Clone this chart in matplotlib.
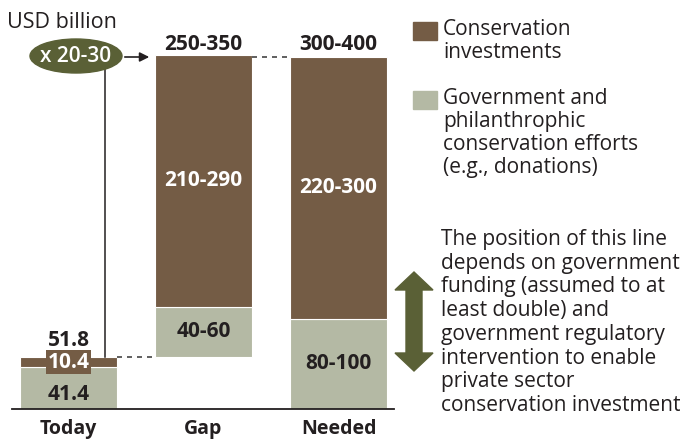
import matplotlib
matplotlib.use("Agg")
import matplotlib.pyplot as plt
from matplotlib.patches import Ellipse, Rectangle, Polygon

plt.rcParams['font.family'] = ['Open Sans', 'DejaVu Sans']

# values in USD billion (midpoints of the ranges shown)
categories = ['Today', 'Gap', 'Needed']
gov_values = [41.4, 50, 90]          # government & philanthropic
invest_values = [10.4, 250, 260]     # conservation investments
bottoms = [0, 51.8, 0]
gov_labels = ['41.4', '40-60', '80-100']
invest_labels = ['10.4', '210-290', '220-300']
total_labels = ['51.8', '250-350', '300-400']
multiplier = 'x 20-30'

BROWN = '#745c45'
SAGE = '#b4b9a4'
OLIVE = '#5a6036'
INK = '#231f20'
VAL_FS = 15

fig = plt.figure(figsize=(6.87, 4.46), dpi=100)
ax = fig.add_axes([12 / 687, 37 / 446, 382 / 687, 362 / 446])
ax.set_xlim(-0.419, 2.411)
ax.set_ylim(0, 360)

x = list(range(len(categories)))
w = 0.72
ax.bar(x, gov_values, width=w, bottom=bottoms, color=SAGE, edgecolor='white', linewidth=0.8)
tops_gov = [b + g for b, g in zip(bottoms, gov_values)]
ax.bar(x, invest_values, width=w, bottom=tops_gov, color=BROWN, edgecolor='white', linewidth=0.8)
totals = [t + i for t, i in zip(tops_gov, invest_values)]

for s in ['top', 'left', 'right']:
    ax.spines[s].set_visible(False)
ax.spines['bottom'].set_linewidth(1.3)
ax.spines['bottom'].set_color(INK)
ax.set_yticks([])
ax.set_xticks(x)
ax.set_xticklabels(categories, fontsize=14, fontweight='bold', color=INK)
ax.tick_params(axis='x', length=0, pad=7)

# value labels
ax.text(0, 14, gov_labels[0], ha='center', va='center', fontsize=VAL_FS, fontweight='bold', color=INK)
ax.text(0, tops_gov[0] + invest_values[0] / 2, invest_labels[0], ha='center', va='center',
        fontsize=VAL_FS, fontweight='bold', color='white',
        bbox=dict(boxstyle='square,pad=0.08', fc=BROWN, ec='none'))
ax.text(0, 68.6, total_labels[0], ha='center', va='center', fontsize=VAL_FS, fontweight='bold', color=INK)
for i in [1, 2]:
    ax.text(i, bottoms[i] + gov_values[i] / 2, gov_labels[i], ha='center', va='center',
            fontsize=VAL_FS, fontweight='bold', color=INK)
    ax.text(i, tops_gov[i] + invest_values[i] / 2, invest_labels[i], ha='center', va='center',
            fontsize=VAL_FS, fontweight='bold', color='white')
    ax.text(i, 357, total_labels[i], ha='center', va='baseline',
            fontsize=VAL_FS, fontweight='bold', color=INK, clip_on=False)

# dashed connectors
ax.plot([w / 2, 1 - w / 2], [totals[0], totals[0]], color='#444444', lw=1.2,
        linestyle=(0, (3, 3)), clip_on=False)
ax.plot([1 + w / 2, 2 - w / 2], [totals[2], totals[2]], color='#444444', lw=1.2,
        linestyle=(0, (3, 3)), clip_on=False)
# vertical line from Today up to the multiplier bubble
ax.plot([0.27, 0.27], [totals[0], 340], color=INK, lw=1.1, clip_on=False)

# overlay in pixel coordinates for annotations
ov = fig.add_axes([0, 0, 1, 1])
ov.set_xlim(0, 687)
ov.set_ylim(446, 0)
ov.axis('off')
ov.patch.set_alpha(0)

ov.text(7, 22, 'USD billion', fontsize=15.5, color=INK, va='center', ha='left')
ov.add_patch(Ellipse((76, 56), 92, 34, color=OLIVE))
ov.text(76, 56, multiplier, fontsize=15, color='white', ha='center', va='center', fontweight='semibold')
ov.annotate('', xy=(152, 57), xytext=(122, 57),
            arrowprops=dict(arrowstyle='-|>', color=INK, lw=1.2, mutation_scale=14))

# legend
ov.add_patch(Rectangle((413, 22), 24, 18, color=BROWN))
ov.text(443, 19, 'Conservation\ninvestments', fontsize=15, color=INK, va='top', ha='left',
        linespacing=1.12)
ov.add_patch(Rectangle((413, 91), 24, 18, color=SAGE))
ov.text(443, 88, 'Government and\nphilanthrophic\nconservation efforts\n(e.g., donations)',
        fontsize=15, color=INK, va='top', ha='left', linespacing=1.12)

# double arrow
cx, top, bot = 414, 272, 371
hw, sw, hl = 19, 8, 18
ov.add_patch(Polygon([(cx, top), (cx + hw, top + hl), (cx + sw, top + hl), (cx + sw, bot - hl),
                      (cx + hw, bot - hl), (cx, bot), (cx - hw, bot - hl), (cx - sw, bot - hl),
                      (cx - sw, top + hl), (cx - hw, top + hl)], closed=True, color=OLIVE))
ov.text(441, 229, 'The position of this line\ndepends on government\nfunding (assumed to at\n'
        'least double) and\ngovernment regulatory\nintervention to enable\nprivate sector\n'
        'conservation investment', fontsize=15, color=INK, va='top', ha='left', linespacing=1.17)

fig.savefig('out.png', dpi=100)
